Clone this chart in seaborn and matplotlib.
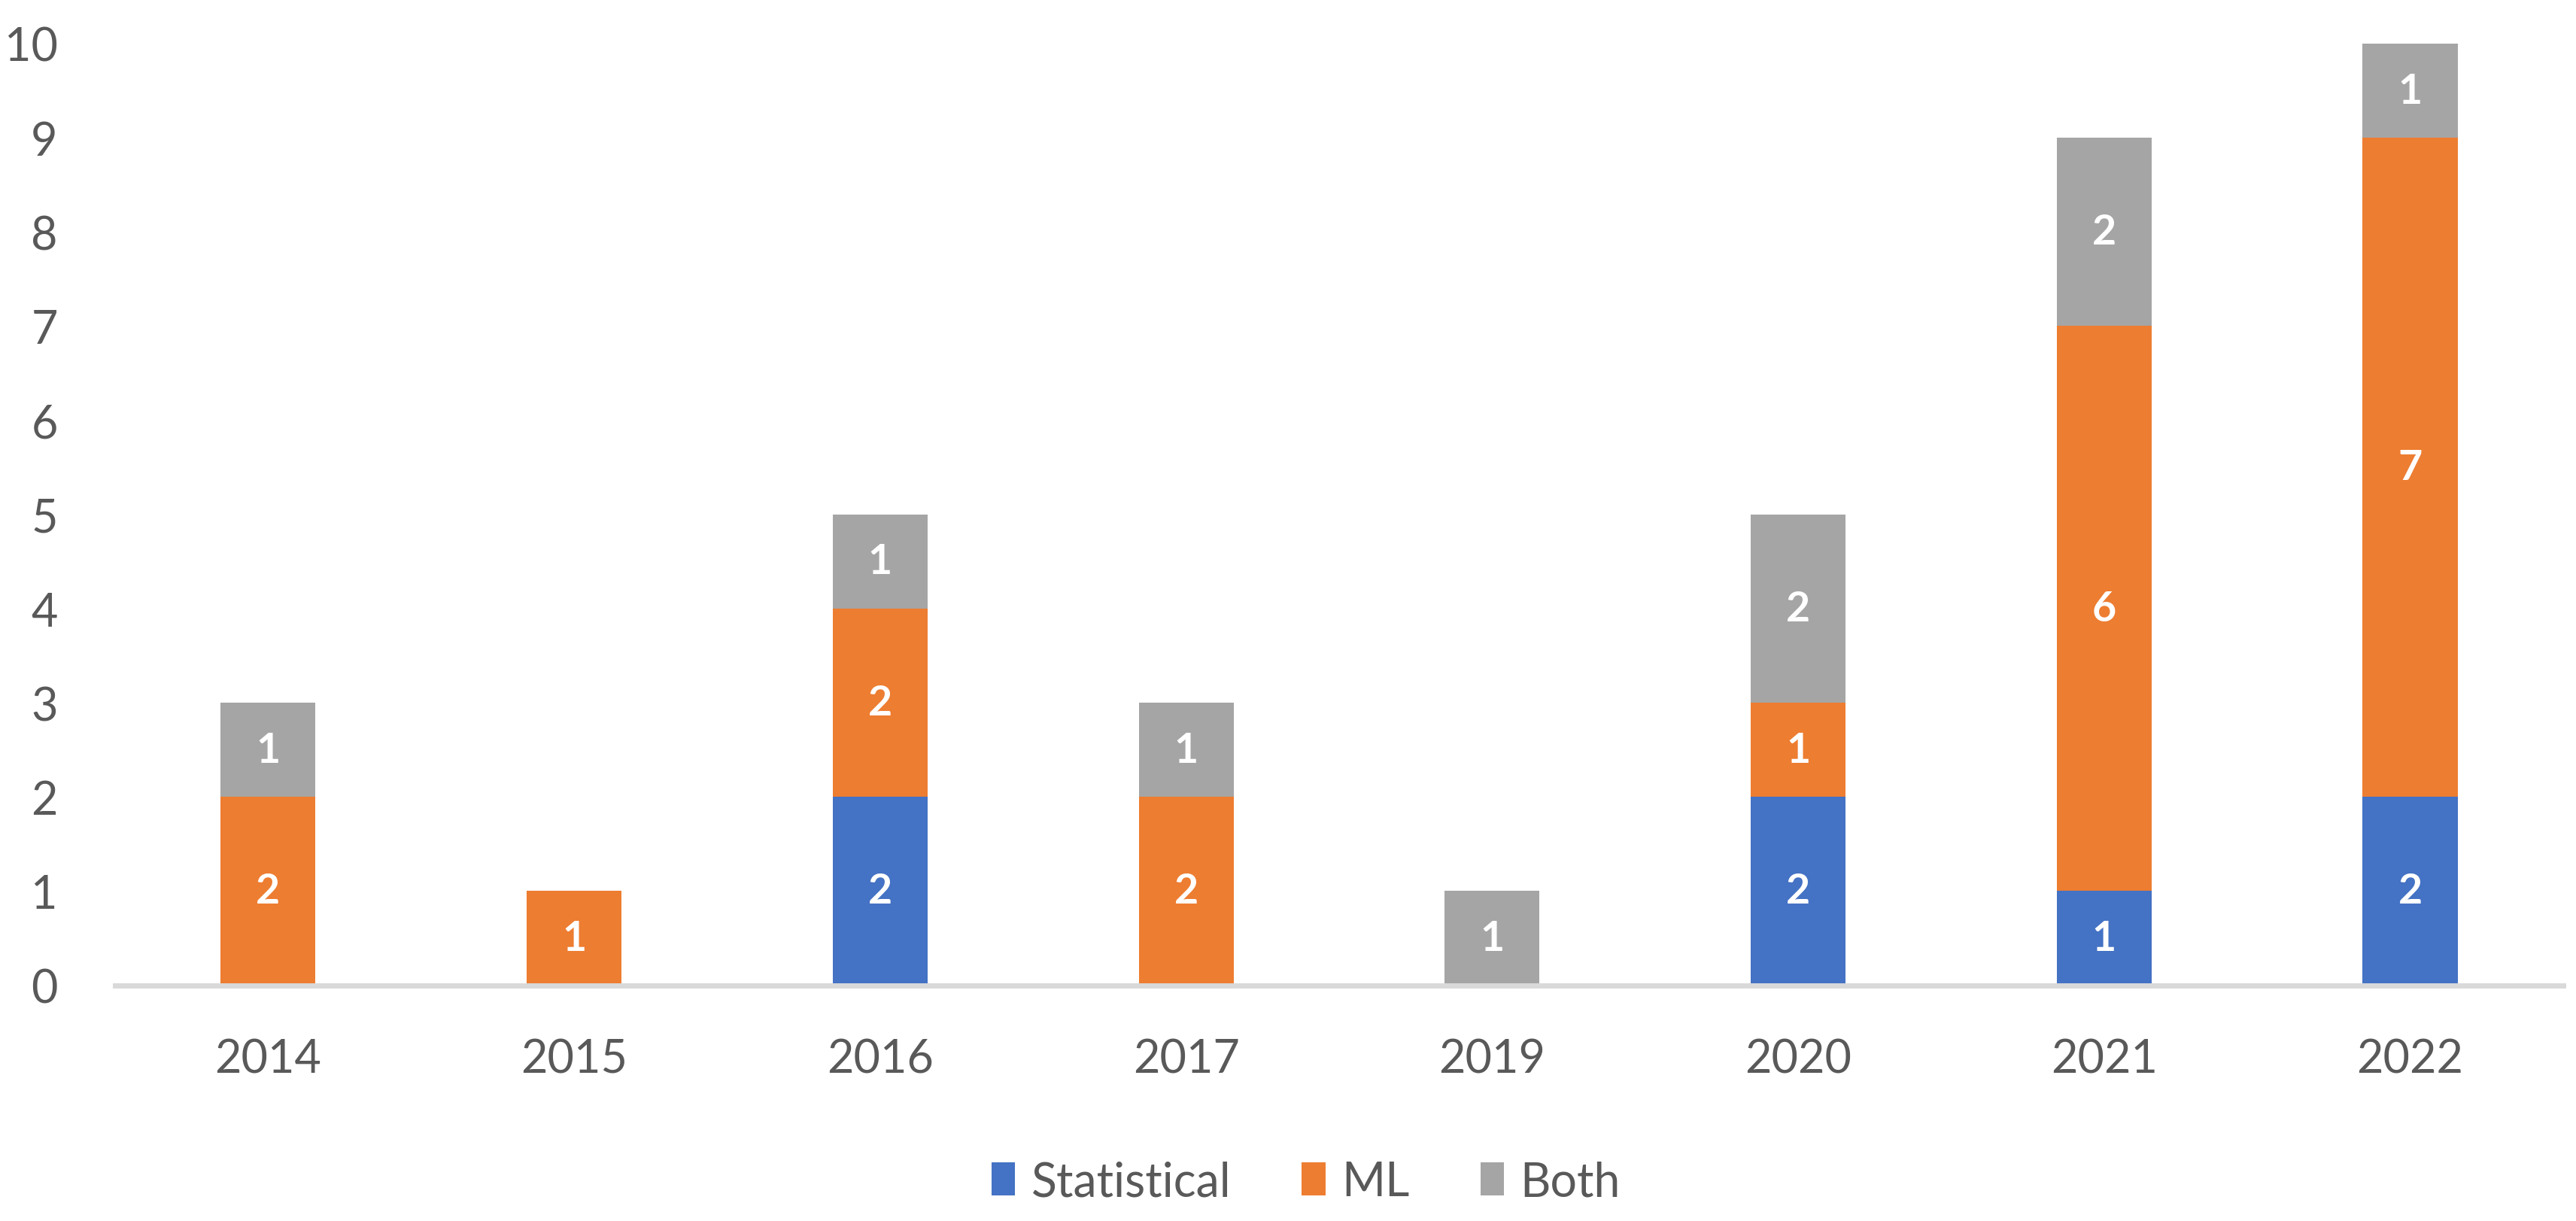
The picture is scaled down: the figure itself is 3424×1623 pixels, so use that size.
import matplotlib
matplotlib.use("Agg")
import matplotlib.pyplot as plt
import seaborn as sns
import numpy as np
import pandas as pd

years = ["2014", "2015", "2016", "2017", "2019", "2020", "2021", "2022"]
statistical = [0, 0, 2, 0, 0, 2, 1, 2]
ml = [2, 1, 2, 2, 0, 1, 6, 7]
both = [1, 0, 1, 1, 1, 2, 2, 1]
series_names = ["Statistical", "ML", "Both"]
colors = ["#4472C4", "#ED7D31", "#A5A5A5"]

sns.set_theme(style="white")
plt.rcParams['font.family'] = ['Lato', 'DejaVu Sans']
text_color = "#595959"

fig = plt.figure(figsize=(34.24, 16.24), dpi=100)
ax = fig.add_axes([0.0447, 0.193, 0.9503, 0.7707])

series = [statistical, ml, both]
bottom = np.zeros(len(years))
for name, vals, col in zip(series_names, series, colors):
    df = pd.DataFrame({"year": years, "value": vals})
    sns.barplot(data=df, x="year", y="value", color=col, width=0.31,
                bottom=bottom.copy(), ax=ax, label=name, saturation=1,
                linewidth=0, errorbar=None)
    for i, v in enumerate(vals):
        if v > 0:
            ax.text(i, bottom[i] + v / 2, str(v), ha="center", va="center",
                    color="white", fontsize=40, fontweight="bold")
    bottom += np.array(vals)

ax.set_xlim(-0.5, len(years) - 0.5)
ax.set_ylim(0, 10)
ax.set_yticks(range(0, 11))
ax.set_xlabel("")
ax.set_ylabel("")
for s in ["top", "right", "left"]:
    ax.spines[s].set_visible(False)
ax.spines["bottom"].set_color("#D9D9D9")
ax.spines["bottom"].set_linewidth(5)
ax.tick_params(axis="both", length=0, labelsize=44, labelcolor=text_color)
ax.tick_params(axis="x", pad=50)
ax.tick_params(axis="y", pad=55)

handles, labels = ax.get_legend_handles_labels()
if ax.get_legend() is not None:
    ax.get_legend().remove()
leg = fig.legend(handles, labels, loc="center", bbox_to_anchor=(0.507, 0.032),
                 ncol=3, frameon=False, fontsize=45, handlelength=0.5,
                 handleheight=0.7, handletextpad=0.35, columnspacing=1.5)
for t in leg.get_texts():
    t.set_color(text_color)

fig.savefig("out.png", dpi=100)
